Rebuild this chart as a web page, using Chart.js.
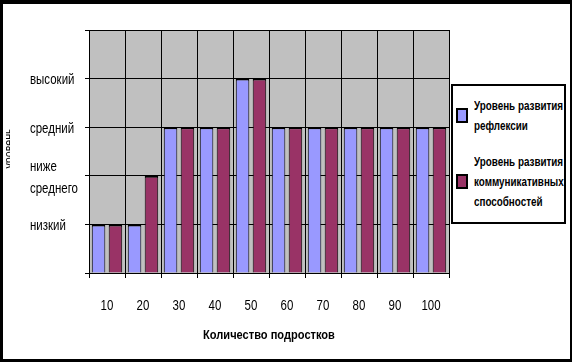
<!DOCTYPE html>
<html>
<head>
<meta charset="utf-8">
<script src="https://cdn.jsdelivr.net/npm/chart.js@4/dist/chart.umd.min.js"></script>
<style>
  html, body { margin: 0; padding: 0; background: #000; }
  .quadro { position: absolute; left: 3px; top: 4px; width: 567px; height: 355px; background: #fff; overflow: hidden; font-family: 'Liberation Sans', Arial, sans-serif; }
  #grafico { position: absolute; left: -3px; top: -4px; }
  .tituloY { position: absolute; left: 3px; top: 96px; width: 4px; height: 100px; overflow: hidden; }
  .tituloY span { position: absolute; left: -5px; top: 44px; font-size: 13px; white-space: nowrap; transform-origin: 0 0; transform: rotate(-90deg) translate(-50%, 0) scaleX(0.82); }
  .legenda { position: absolute; left: 448px; top: 80px; width: 111px; height: 136px; border: 2.5px solid #000; background: #fff; font-size: 12px; font-weight: bold; }
  .item { position: absolute; left: 21px; line-height: 20px; }
  .texto { display: inline-block; white-space: nowrap; transform-origin: 0 0; transform: scaleX(0.82); }
  .quadrado { position: absolute; left: -18px; width: 8px; height: 11px; border: 2px solid #000; }
</style>
</head>
<body>
<div class="quadro">
  <canvas id="grafico" width="572" height="362"></canvas>
  <div class="tituloY"><span>уровень</span></div>
  <div class="legenda" id="legenda"></div>
</div>
<script>
const categorias = ['10', '20', '30', '40', '50', '60', '70', '80', '90', '100']
const reflexia = [1, 1, 3, 3, 4, 3, 3, 3, 3, 3]
const comunicacao = [1, 2, 3, 3, 4, 3, 3, 3, 3, 3]
const niveis = ['', 'низкий', ['ниже', 'среднего'], 'средний', 'высокий', '']
const nomesSeries = [['Уровень развития', 'рефлексии'], ['Уровень развития', 'коммуникативных', 'способностей']]
const coresSeries = ['#9999FF', '#993366']

document.addEventListener("DOMContentLoaded", function () {
  const fonte = "'Liberation Sans', Arial, sans-serif"
  const canvas = document.getElementById('grafico')

  // texto estreito (tipo Arial Narrow): aperta o texto na horizontal
  const ctx = canvas.getContext('2d')
  const fillOriginal = ctx.fillText
  ctx.fillText = function (t, x, y) {
    this.save()
    this.translate(x, y + 2)
    this.scale(0.82, 1)
    fillOriginal.call(this, t, 0, 0)
    this.restore()
  }

  // fundo cinza da area do grafico
  const fundo = {
    id: 'fundo',
    beforeDraw(chart) {
      const a = chart.chartArea
      const c = chart.ctx
      c.save()
      c.fillStyle = '#C0C0C0'
      c.fillRect(a.left, a.top, a.right - a.left, a.bottom - a.top)
      c.restore()
    }
  }

  const borda = { top: 2, left: 1, right: 1, bottom: 0 }

  const chart = new Chart(canvas, {
    type: 'bar',
    data: {
      labels: categorias,
      datasets: [{
        label: nomesSeries[0].join(' '),
        data: reflexia,
        backgroundColor: coresSeries[0],
        borderColor: '#000',
        borderWidth: borda,
        borderSkipped: false
      }, {
        label: nomesSeries[1].join(' '),
        data: comunicacao,
        backgroundColor: coresSeries[1],
        borderColor: '#000',
        borderWidth: borda,
        borderSkipped: false
      }]
    },
    options: {
      responsive: false,
      animation: false,
      barPercentage: 0.8,
      categoryPercentage: 0.94,
      layout: { padding: { left: 30, top: 30, right: 123, bottom: 20 } },
      plugins: { legend: { display: false }, tooltip: { enabled: false } },
      scales: {
        x: {
          afterFit: s => { s.height = 69 },
          grid: { color: '#000', lineWidth: 1, tickLength: 5, offset: true },
          border: { color: '#000', width: 1 },
          ticks: { color: '#000', padding: 18, font: { family: fonte, size: 14 } },
          title: { display: true, text: 'Количество подростков', color: '#000', padding: { top: 0, bottom: 1 }, font: { family: fonte, size: 13.5, weight: 'bold' } }
        },
        y: {
          min: 0,
          max: 5,
          afterFit: s => { s.width = 59 },
          grid: { color: '#000', lineWidth: 1, tickLength: 4 },
          border: { color: '#000', width: 1 },
          ticks: {
            stepSize: 1,
            crossAlign: 'far',
            color: '#000',
            font: { family: fonte, size: 14, lineHeight: 1.55 },
            callback: v => niveis[v]
          }
        }
      }
    },
    plugins: [fundo]
  })

  // legenda com quebras de linha
  const legenda = document.getElementById('legenda')
  const topos = [10, 66]
  chart.data.datasets.forEach(function (ds, i) {
    const item = document.createElement('div')
    item.className = 'item'
    item.style.top = topos[i] + 'px'
    const texto = document.createElement('span')
    texto.className = 'texto'
    texto.innerHTML = nomesSeries[i].join('<br>')
    item.appendChild(texto)
    const q = document.createElement('div')
    q.className = 'quadrado'
    q.style.background = ds.backgroundColor
    q.style.top = (nomesSeries[i].length * 10 - 8) + 'px'
    item.appendChild(q)
    legenda.appendChild(item)
  })
})
</script>
</body>
</html>
